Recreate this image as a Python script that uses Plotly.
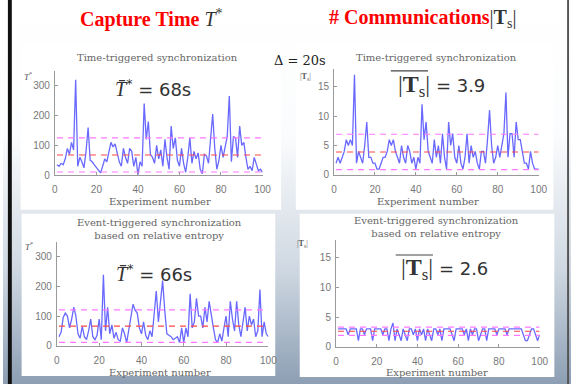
import base64
import plotly.graph_objects as go

W, H = 580, 390

# ---------------- data ----------------
experiments = list(range(1, 101))

tt_capture = [35, 30, 40, 35, 55, 90, 70, 110, 85, 320,
              30, 60, 45, 25, 80, 160, 50, 45, 35, 25,
              15, 8, 30, 55, 45, 80, 110, 95, 105, 75,
              45, 30, 90, 60, 40, 90, 80, 30, 60, 2,
              45, 30, 240, 120, 180, 70, 60, 40, 100, 55,
              85, 30, 120, 60, 20, 165, 90, 125, 50, 30,
              90, 40, 10, 60, 125, 40, 80, 55, 75, 20,
              5, 70, 65, 40, 110, 205, 90, 20, 50, 100,
              60, 90, 130, 265, 45, 130, 125, 60, 165, 100,
              110, 60, 20, 30, 15, 60, 40, 15, 20, 10]

tt_comm = [2, 3, 2, 3, 4, 6, 5, 6, 5, 17,
           2, 4, 3, 2, 5, 9, 3, 3, 2, 2,
           1, 1, 2, 3, 3, 4, 6, 5, 6, 4,
           3, 2, 5, 3, 2, 5, 4, 2, 3, 1,
           3, 2, 12, 6, 9, 4, 3, 2, 6, 3,
           5, 2, 7, 3, 1, 9, 5, 7, 3, 2,
           5, 2, 1, 3, 7, 2, 5, 3, 4, 2,
           1, 4, 4, 2, 6, 11, 5, 2, 3, 5,
           3, 5, 7, 14, 3, 7, 7, 3, 9, 6,
           6, 4, 2, 2, 1, 4, 2, 1, 1, 1]

et_capture = [30, 45, 95, 110, 100, 60, 90, 130, 100, 40,
              25, 65, 30, 20, 50, 90, 30, 20, 35, 90,
              20, 240, 50, 130, 40, 70, 25, 45, 20, 15,
              60, 40, 10, 50, 100, 140, 120, 110, 60, 40,
              80, 35, 20, 50, 30, 100, 185, 80, 150, 220,
              120, 40, 35, 30, 20, 25, 30, 10, 60, 10,
              60, 30, 175, 60, 80, 160, 100, 100, 60, 130,
              80, 150, 100, 60, 20, 10, 40, 15, 60, 100,
              30, 150, 90, 50, 150, 70, 30, 80, 130, 50,
              100, 70, 90, 30, 50, 190, 30, 80, 40, 30]

et_comm = [3, 3, 3, 3, 3, 2, 3, 3, 3, 3,
           1, 3, 3, 2, 3, 3, 3, 1, 3, 3,
           3, 3, 2, 3, 3, 1, 3, 4, 1, 3,
           2, 1, 3, 2, 1, 3, 3, 2, 3, 1,
           3, 2, 3, 1, 3, 2, 1, 3, 3, 2,
           3, 1, 3, 3, 3, 3, 2, 1, 3, 3,
           3, 3, 2, 3, 1, 3, 2, 3, 3, 1,
           2, 3, 3, 1, 3, 3, 3, 3, 2, 3,
           3, 3, 3, 2, 3, 3, 3, 3, 3, 3,
           3, 2, 1, 1, 2, 3, 3, 2, 1, 2]

# mean, mean+std, mean-std
tt_capture_levels = [68, 125, 11]
tt_comm_levels = [3.9, 6.9, 0.9]
et_capture_levels = [66, 121, 11]
et_comm_levels = [2.6, 3.3, 1.9]

x_ticks = [0, 20, 40, 60, 80, 100]
capture_ticks = [0, 100, 200, 300]
comm_ticks = [0, 5, 10, 15]


def px(x):
    return x / W


def py(y):
    return 1 - y / H


BLUE = "rgb(105,105,255)"
RED = "rgb(255,70,70)"
MAG = "rgb(255,120,255)"
SERIF = "Liberation Serif"
DSERIF = "DejaVu Serif"
SANS = "Liberation Sans"
DSANS = "DejaVu Sans"

fig = go.Figure()

# panel geometry (pixels): x of 0, x of 100, y of 0, y of top, y max value
panels = [
    dict(ax="", x0=53, x1=265, yb=178, yt=71.8, ymax=350, data=tt_capture,
         lv=tt_capture_levels, ticks=capture_ticks),
    dict(ax="2", x0=338, x1=547, yb=177.7, yt=70, ymax=18, data=tt_comm,
         lv=tt_comm_levels, ticks=comm_ticks),
    dict(ax="3", x0=55, x1=271, yb=351, yt=246, ymax=350, data=et_capture,
         lv=et_capture_levels, ticks=capture_ticks),
    dict(ax="4", x0=340, x1=548, yb=352, yt=244, ymax=18, data=et_comm,
         lv=et_comm_levels, ticks=comm_ticks),
]

layout_axes = {}
for p in panels:
    xa = "x" + p["ax"]
    ya = "y" + p["ax"]
    mean, up, lo = p["lv"]
    fig.add_trace(go.Scatter(x=experiments, y=p["data"], mode="lines",
                             line=dict(color=BLUE, width=1.3),
                             xaxis=xa, yaxis=ya, showlegend=False))
    for val, col in [(up, MAG), (lo, MAG), (mean, RED)]:
        fig.add_trace(go.Scatter(x=[1, 100], y=[val, val], mode="lines",
                                 line=dict(color=col, width=1.1, dash="6px,5px"),
                                 xaxis=xa, yaxis=ya, showlegend=False, hoverinfo="skip"))
    common = dict(showline=True, linecolor="#9a9a9a", linewidth=1, ticks="inside",
                  ticklen=3, tickcolor="#9a9a9a", showgrid=False, zeroline=False,
                  tickfont=dict(family=SANS, size=10, color="#777"), fixedrange=True)
    layout_axes["xaxis" + p["ax"]] = dict(
        domain=[px(p["x0"]), px(p["x1"])], range=[0, 100], tickvals=x_ticks,
        anchor=ya, ticklabelstandoff=5, **common)
    layout_axes["yaxis" + p["ax"]] = dict(
        domain=[py(p["yb"]), py(p["yt"])], range=[0, p["ymax"]], tickvals=p["ticks"],
        anchor=xa, ticklabelstandoff=2, **common)

fig.update_layout(**layout_axes)

# background gradient
svg = ('<svg xmlns="http://www.w3.org/2000/svg" width="580" height="390" '
       'preserveAspectRatio="none"><defs><linearGradient id="g" x1="0" y1="0" x2="0" y2="1">'
       '<stop offset="0" stop-color="#ffffff"/><stop offset="0.35" stop-color="#fbfcfd"/>'
       '<stop offset="0.7" stop-color="#cfd8e2"/><stop offset="1" stop-color="#8d9fb4"/>'
       '</linearGradient></defs><rect width="580" height="390" fill="url(#g)"/></svg>')
uri = "data:image/svg+xml;base64," + base64.b64encode(svg.encode()).decode()
fig.add_layout_image(dict(source=uri, xref="paper", yref="paper", x=0, y=1,
                          sizex=1, sizey=1, sizing="stretch", layer="below"))

shapes = []
# white panel boxes
for (a, b, c, d) in [(18, 45, 284, 213), (299, 45, 562, 213),
                     (19, 217, 278, 382), (303, 217, 563, 383)]:
    shapes.append(dict(type="rect", xref="paper", yref="paper", x0=px(a), x1=px(c),
                       y0=py(d), y1=py(b), fillcolor="white", line=dict(width=0),
                       layer="below"))
# frame borders
shapes.append(dict(type="rect", xref="paper", yref="paper", x0=px(5), x1=px(9),
                   y0=py(390), y1=py(0), fillcolor="#111", line=dict(width=0)))
shapes.append(dict(type="rect", xref="paper", yref="paper", x0=px(576), x1=px(578),
                   y0=py(390), y1=py(0), fillcolor="#555", line=dict(width=0)))
# overlines of |T_s|
for (a, b, y) in [(396, 434, 72), (401, 439, 259)]:
    shapes.append(dict(type="line", xref="paper", yref="paper", x0=px(a), x1=px(b),
                       y0=py(y), y1=py(y), line=dict(color="#444", width=1.2)))
fig.update_layout(shapes=shapes)

ann = []


def add(text, x, y, size, color="#333", family=SERIF):
    ann.append(dict(text=text, x=px(x), y=py(y), xref="paper", yref="paper",
                    showarrow=False, xanchor="center", yanchor="middle",
                    font=dict(size=size, color=color, family=family)))


add("<b>Capture Time </b><span style='color:#333;font-style:italic'>T</span>"
    "<span style='color:#333'><sup>*</sup></span>", 152, 19, 20, "red")
add("<b># Communications</b><span style='color:#333'>|<b>T</b><sub>s</sub>|</span>",
    428, 19, 20, "red")
add("Δ = 20s", 303, 61, 13, "#222", DSERIF)
add("Time-triggered synchronization", 158, 58, 10, "#666", DSERIF)
add("Time-triggered synchronization", 443, 58, 10, "#666", DSERIF)
add("Event-triggered synchronization<br>based on relative entropy", 160, 233, 10, "#666", DSERIF)
add("Event-triggered synchronization<br>based on relative entropy", 443, 231, 10, "#666", DSERIF)
for (x, y) in [(160, 205), (434, 205), (160, 378), (443, 378)]:
    add("Experiment number", x, y, 10, "#666", DSERIF)
add("<i>T</i><sup>*</sup>", 26, 77, 9, "#555")
add("<i>T</i><sup>*</sup>", 27, 250, 9, "#555")
add("|<b>T</b><sub>s</sub>|", 309, 78, 8, "#555")
add("|<b>T</b><sub>s</sub>|", 306, 248, 8, "#555")
add("<span style='font-family:Liberation Serif;font-style:italic;font-size:20px'>T̄</span>"
    "<sup>*</sup> = 68s", 153, 89, 18, "#333", DSANS)
add("<span style='font-family:Liberation Serif;font-style:italic;font-size:20px'>T̄</span>"
    "<sup>*</sup> = 66s", 154, 277, 18, "#333", DSANS)
add("<span style='font-family:Liberation Serif;font-size:24px'>|<b>T</b><sub>s</sub>|</span>"
    " = 3.9", 448, 87, 18, "#333", DSANS)
add("<span style='font-family:Liberation Serif;font-size:24px'>|<b>T</b><sub>s</sub>|</span>"
    " = 2.6", 451, 273, 18, "#333", DSANS)
fig.update_layout(annotations=ann)

fig.update_layout(width=W, height=H, margin=dict(l=0, r=0, t=0, b=0),
                  paper_bgcolor="white", plot_bgcolor="rgba(0,0,0,0)",
                  showlegend=False)

fig.write_html("out.html", config={"displayModeBar": False},
               post_script="document.body.style.margin='0';document.body.style.padding='0';")
